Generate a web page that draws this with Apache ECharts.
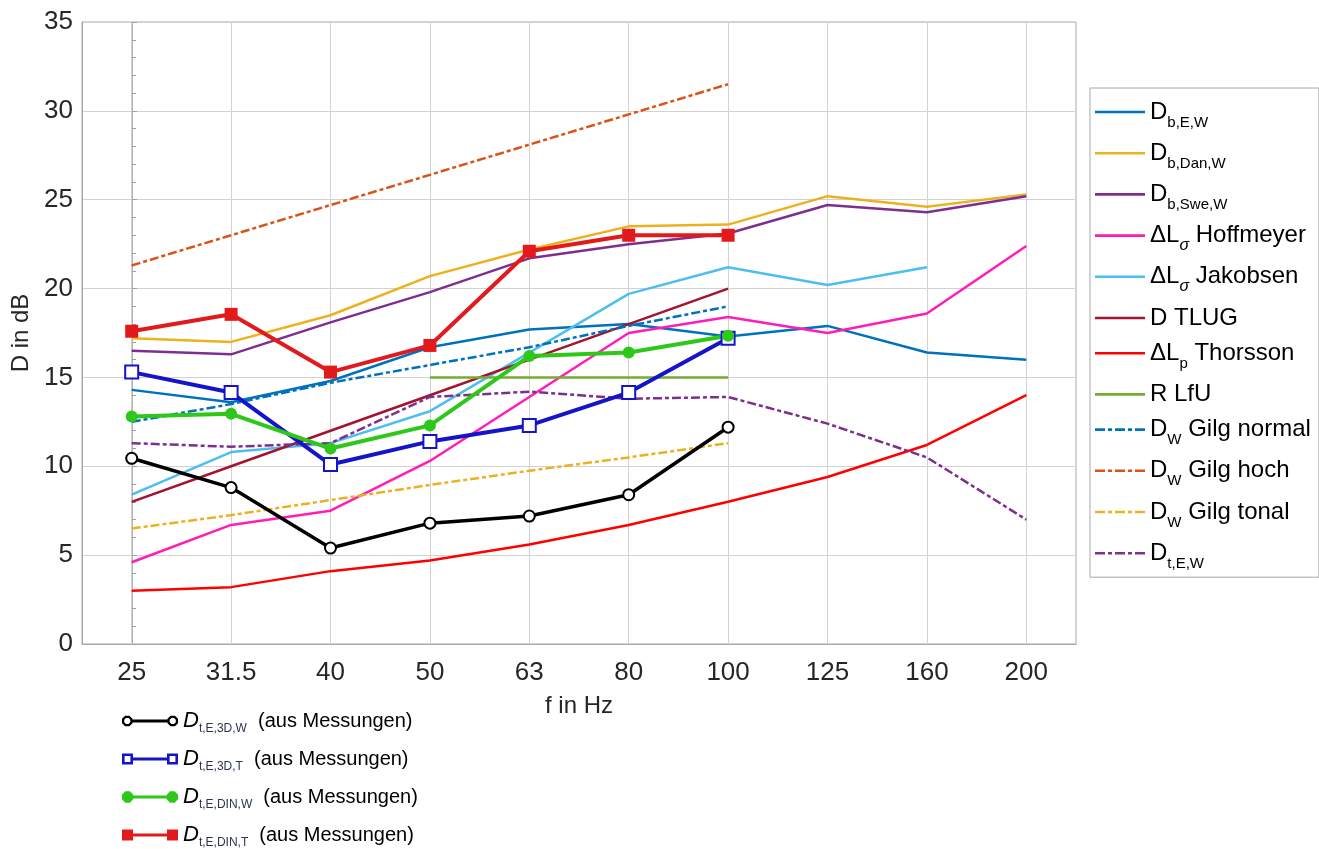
<!DOCTYPE html>
<html>
<head>
<meta charset="utf-8">
<script src="https://cdn.jsdelivr.net/npm/echarts@6.0.0/dist/echarts.min.js"></script>
<style>
  html, body { margin: 0; padding: 0; background: #fff; }
  #chart { width: 1319px; height: 849px; }
</style>
</head>
<body>
<div id="chart"></div>
<script>
// categories (third-octave bands)
var freqs = ["25", "31.5", "40", "50", "63", "80", "100", "125", "160", "200"];
var yTicks = [0, 35, 5]; // min, max, step

// model / literature curves
var dbEW       = [14.3, 13.6, 14.8, 16.7, 17.7, 18.0, 17.3, 17.9, 16.4, 16.0];
var dbDanW     = [17.2, 17.0, 18.5, 20.7, 22.2, 23.5, 23.6, 25.2, 24.6, 25.3];
var dbSweW     = [16.5, 16.3, 18.1, 19.8, 21.7, 22.5, 23.1, 24.7, 24.3, 25.2];
var hoffmeyer  = [4.6, 6.7, 7.5, 10.3, 13.9, 17.5, 18.4, 17.5, 18.6, 22.4];
var jakobsen   = [8.4, 10.8, 11.3, 13.1, 16.4, 19.7, 21.2, 20.2, 21.2, null];
var tlug       = [8.0, 10.0, 12.0, 14.0, 16.0, 18.0, 20.0, null, null, null];
var thorsson   = [3.0, 3.2, 4.1, 4.7, 5.6, 6.7, 8.0, 9.4, 11.2, 14.0];
var lfu        = [null, null, null, 15.0, 15.0, 15.0, 15.0, null, null, null];
var gilgNormal = [12.5, 13.5, 14.7, 15.7, 16.7, 17.9, 19.0, null, null, null];
var gilgHoch   = [21.3, 23.0, 24.7, 26.4, 28.1, 29.8, 31.5, null, null, null];
var gilgTonal  = [6.5, 7.25, 8.1, 8.95, 9.75, 10.5, 11.3, null, null, null];
var dtEW       = [11.3, 11.1, 11.3, 13.9, 14.2, 13.8, 13.9, 12.4, 10.5, 7.0];

// measurements (25 ... 100 Hz)
var meas3dW  = [10.45, 8.8, 5.4, 6.8, 7.2, 8.4, 12.2];
var meas3dT  = [15.3, 14.15, 10.1, 11.4, 12.3, 14.15, 17.2];
var measDinW = [12.8, 12.95, 11.0, 12.3, 16.2, 16.4, 17.35];
var measDinT = [17.6, 18.55, 15.3, 16.8, 22.1, 23.0, 23.0];

var FONT = "Liberation Sans, Arial, Helvetica, sans-serif";
var DASHDOT = [9, 3, 4, 3];

// legend icons built from small filled shapes
function oct(cx, cy, r, rev) {
  var a = 0.924 * r, b = 0.383 * r;
  var p = [[cx - b, cy - a], [cx + b, cy - a], [cx + a, cy - b], [cx + a, cy + b],
           [cx + b, cy + a], [cx - b, cy + a], [cx - a, cy + b], [cx - a, cy - b]];
  if (rev) p.reverse();
  return "M" + p.map(function (q) { return q[0].toFixed(2) + "," + q[1].toFixed(2); }).join("L") + "Z";
}
function box(x, y, w, h, rev) {
  var p = [[x, y], [x + w, y], [x + w, y + h], [x, y + h]];
  if (rev) p.reverse();
  return "M" + p.map(function (q) { return q[0] + "," + q[1]; }).join("L") + "Z";
}
function lineIcon(dashed) {
  if (!dashed) return "path://" + box(0, 0, 50, 2.6);
  var segs = [[0, 10], [13, 4], [20, 10], [33, 4], [40, 10]], s = "";
  segs.forEach(function (g) { s += box(g[0], 0, g[1], 2.6); });
  return "path://" + s;
}
var iconOpenCircle = "path://" + oct(6, 6, 5.5) + oct(6, 6, 3.2, true) + box(10.5, 4.6, 35, 2.8) + oct(50, 6, 5.5) + oct(50, 6, 3.2, true);
var iconOpenSquare = "path://" + box(0, 0.5, 11, 11) + box(2.6, 3.1, 5.8, 5.8, true) + box(11, 4.6, 34, 2.8) + box(45, 0.5, 11, 11) + box(47.6, 3.1, 5.8, 5.8, true);
var iconDot = "path://" + oct(6, 6, 6) + box(11, 4.5, 34, 3) + oct(50, 6, 6);
var iconSquare = "path://" + box(0, 0.5, 11, 11) + box(11, 4.5, 34, 3) + box(45, 0.5, 11, 11);

var models = [
  { name: "Db,E,W",      data: dbEW,       color: "#0072BD", dash: null,    label: "{m|D}{s|b,E,W}" },
  { name: "Db,Dan,W",    data: dbDanW,     color: "#EDB120", dash: null,    label: "{m|D}{s|b,Dan,W}" },
  { name: "Db,Swe,W",    data: dbSweW,     color: "#7E2F8E", dash: null,    label: "{m|D}{s|b,Swe,W}" },
  { name: "Hoffmeyer",   data: hoffmeyer,  color: "#FF1DB5", dash: null,    label: "{m|ΔL}{g|σ}{m| Hoffmeyer}" },
  { name: "Jakobsen",    data: jakobsen,   color: "#4DBEEE", dash: null,    label: "{m|ΔL}{g|σ}{m| Jakobsen}" },
  { name: "D TLUG",      data: tlug,       color: "#A2142F", dash: null,    label: "{m|D TLUG}" },
  { name: "Thorsson",    data: thorsson,   color: "#FF0000", dash: null,    label: "{m|ΔL}{s|p}{m| Thorsson}" },
  { name: "R LfU",       data: lfu,        color: "#77AC30", dash: null,    label: "{m|R LfU}" },
  { name: "Gilg normal", data: gilgNormal, color: "#0072BD", dash: DASHDOT, label: "{m|D}{s|W}{m| Gilg normal}" },
  { name: "Gilg hoch",   data: gilgHoch,   color: "#D95319", dash: DASHDOT, label: "{m|D}{s|W}{m| Gilg hoch}" },
  { name: "Gilg tonal",  data: gilgTonal,  color: "#EDB120", dash: DASHDOT, label: "{m|D}{s|W}{m| Gilg tonal}" },
  { name: "Dt,E,W",      data: dtEW,       color: "#7E2F8E", dash: DASHDOT, label: "{m|D}{s|t,E,W}" }
];

var meas = [
  { name: "3D,W",  data: meas3dW,  color: "#000000", symbol: "emptyCircle", size: 11, width: 3.5, icon: iconOpenCircle, sub: "t,E,3D,W" },
  { name: "3D,T",  data: meas3dT,  color: "#1414C8", symbol: "emptyRect",   size: 13, width: 4,   icon: iconOpenSquare, sub: "t,E,3D,T" },
  { name: "DIN,W", data: measDinW, color: "#2EC81A", symbol: "circle",      size: 12, width: 4,   icon: iconDot,        sub: "t,E,DIN,W" },
  { name: "DIN,T", data: measDinT, color: "#E31A1C", symbol: "rect",        size: 13, width: 4,   icon: iconSquare,     sub: "t,E,DIN,T" }
];

var series = [];
models.forEach(function (m) {
  series.push({
    name: m.name, type: "line", data: m.data, symbol: "none",
    itemStyle: { color: m.color },
    lineStyle: { color: m.color, width: 2.5, type: m.dash || "solid" },
    emphasis: { disabled: true }
  });
});
meas.forEach(function (m) {
  series.push({
    name: m.name, type: "line", data: m.data,
    symbol: m.symbol, symbolSize: m.size, showAllSymbol: true,
    itemStyle: { color: m.color, borderWidth: 2 },
    lineStyle: { color: m.color, width: m.width },
    emphasis: { disabled: true }, z: 5
  });
});

var chartDom = document.getElementById("chart");
var myChart = echarts.init(chartDom);
var option;

option = {
  backgroundColor: "#ffffff",
  animation: false,
  textStyle: { fontFamily: FONT },
  grid: {
    left: 82, right: 243, top: 22, bottom: 205,
    show: true, borderColor: "#a8a8a8", borderWidth: 1
  },
  xAxis: {
    type: "category",
    data: freqs,
    boundaryGap: true,
    name: "f in Hz",
    nameLocation: "middle",
    nameGap: 50,
    nameTextStyle: { fontSize: 24, color: "#262626", fontFamily: FONT },
    axisLine: { lineStyle: { color: "#a8a8a8" } },
    axisTick: { show: false },
    axisLabel: { fontSize: 26, color: "#262626", margin: 16, fontFamily: FONT },
    splitLine: { show: true, alignWithLabel: true, lineStyle: { color: "#d2d2d2", width: 1 } }
  },
  yAxis: [
    {
      type: "value",
      min: yTicks[0], max: yTicks[1], interval: yTicks[2],
      name: "D in dB",
      nameLocation: "middle",
      nameGap: 44,
      nameTextStyle: { fontSize: 24, color: "#262626", fontFamily: FONT },
      axisLine: { show: true, lineStyle: { color: "#a8a8a8" } },
      axisTick: { show: false },
      axisLabel: { fontSize: 26, color: "#262626", margin: 9, fontFamily: FONT },
      splitLine: { show: true, lineStyle: { color: "#d2d2d2", width: 1 } }
    },
    {
      // inner axis with minor ticks on the 25 Hz line
      type: "value",
      position: "left",
      offset: -50,
      min: yTicks[0], max: yTicks[1], interval: yTicks[2],
      axisLine: { show: true, lineStyle: { color: "#b4b4b4" } },
      axisTick: { show: true, inside: true, length: 5, lineStyle: { color: "#a0a0a0" } },
      minorTick: { show: true, splitNumber: 5, length: 4, lineStyle: { color: "#a0a0a0" } },
      axisLabel: { show: false },
      splitLine: { show: false }
    }
  ],
  legend: [
    {
      orient: "vertical",
      left: 1090, top: 88,
      padding: [12, 8, 6, 5],
      itemGap: 11.2,
      itemWidth: 50,
      itemHeight: 14,
      borderColor: "#a8a8a8",
      borderWidth: 1,
      backgroundColor: "#fff",
      selectedMode: false,
      itemStyle: { borderWidth: 0 },
      data: models.map(function (m) { return { name: m.name, icon: lineIcon(m.dash) }; }),
      formatter: function (name) {
        for (var i = 0; i < models.length; i++) if (models[i].name === name) return models[i].label;
        return name;
      },
      textStyle: {
        fontFamily: FONT, color: "#000",
        rich: {
          m: { fontSize: 24, lineHeight: 36, fontFamily: FONT, color: "#000" },
          s: { fontSize: 15, lineHeight: 15, verticalAlign: "bottom", fontFamily: FONT, color: "#000" },
          g: { fontSize: 16, lineHeight: 15, verticalAlign: "bottom", fontStyle: "italic", fontFamily: FONT, color: "#000" }
        }
      }
    },
    {
      orient: "vertical",
      left: 122, top: 710,
      padding: 0,
      itemGap: 13,
      itemWidth: 56,
      itemHeight: 12,
      selectedMode: false,
      itemStyle: { borderWidth: 0 },
      data: meas.map(function (m) { return { name: m.name, icon: m.icon }; }),
      formatter: function (name) {
        for (var i = 0; i < meas.length; i++) if (meas[i].name === name) return "{d|D}{s|" + meas[i].sub + "}{t|  (aus Messungen)}";
        return name;
      },
      textStyle: {
        fontFamily: FONT, color: "#000",
        rich: {
          d: { fontSize: 22, lineHeight: 28, fontStyle: "italic", fontFamily: FONT, color: "#000" },
          s: { fontSize: 12, lineHeight: 12, verticalAlign: "bottom", fontFamily: FONT, color: "#2a3550" },
          t: { fontSize: 20, lineHeight: 28, fontFamily: FONT, color: "#000" }
        }
      }
    }
  ],
  series: series
};

option && myChart.setOption(option);
</script>
</body>
</html>
